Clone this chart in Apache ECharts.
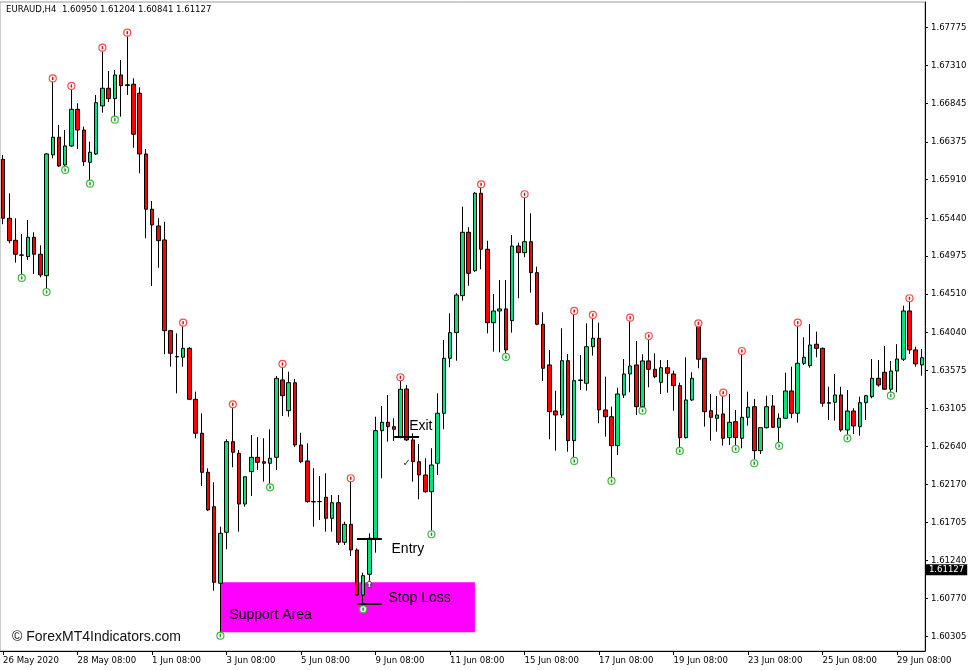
<!DOCTYPE html>
<html><head><meta charset="utf-8">
<script src="https://cdn.jsdelivr.net/npm/echarts@6/dist/echarts.min.js"></script>
<style>html,body{margin:0;padding:0;background:#fff}#c{width:977px;height:670px}</style>
</head><body><div id="c"></div>
<script>
const symbolName = 'EURAUD,H4';
const lastBar = [1.60950, 1.61204, 1.60841, 1.61127];
const watermark = '\u00A9 ForexMT4Indicators.com';
const tickLabels = ['26 May 2020','28 May 08:00','1 Jun 08:00','3 Jun 08:00','5 Jun 08:00','9 Jun 08:00','11 Jun 08:00','15 Jun 08:00','17 Jun 08:00','19 Jun 08:00','23 Jun 08:00','25 Jun 08:00','29 Jun 08:00'];
const barsPerTick = 12;
const priceTicks = [1.60305,1.60770,1.61240,1.61705,1.62170,1.62640,1.63105,1.63575,1.64040,1.64510,1.64975,1.65440,1.65910,1.66375,1.66845,1.67310,1.67775];

const open = [1.66161,1.65437,1.65167,1.64987,1.64966,1.65204,1.64996,1.64733,1.66214,1.66431,
1.66091,1.66324,1.66774,1.66520,1.66124,1.66226,1.66815,1.67032,1.66904,1.67195,
1.67066,1.67081,1.66971,1.66226,1.65548,1.65343,1.65171,1.64058,1.63742,1.63732,
1.63842,1.63217,1.62800,1.62321,1.61899,1.60960,1.61585,1.62697,1.62554,1.61932,
1.62329,1.62505,1.62451,1.62432,1.62505,1.63454,1.63077,1.63420,1.62656,1.62460,
1.61963,1.61961,1.62015,1.61757,1.61948,1.61463,1.61683,1.61368,1.60816,1.61070,
1.61512,1.62832,1.62935,1.62881,1.62751,1.63343,1.62718,1.62451,1.62288,1.62083,
1.62432,1.63045,1.63720,1.64034,1.64488,1.65265,1.64794,1.65744,1.65057,1.64156,
1.64300,1.64325,1.64181,1.65097,1.65015,1.65150,1.64770,1.64137,1.63638,1.63073,
1.63024,1.63690,1.62709,1.63447,1.63413,1.63862,1.63965,1.63086,1.63003,1.62648,
1.63270,1.63527,1.63638,1.63126,1.63687,1.63585,1.63425,1.63604,1.63527,1.63384,
1.62746,1.63208,1.64141,1.63720,1.63077,1.62984,1.63037,1.62746,1.62942,1.62738,
1.62996,1.63126,1.62586,1.62868,1.63135,1.62873,1.62984,1.63319,1.63045,1.63658,
1.63629,1.63892,1.63842,1.63175,1.63180,1.63270,1.62840,1.63073,1.62881,1.63175,
1.63249,1.63474,1.63548,1.63340,1.63564,1.63708,1.64300,1.63822,1.63638];

const high = [1.66214,1.65744,1.65437,1.65245,1.65416,1.65265,1.65106,1.66238,1.67152,1.66582,
1.66520,1.67060,1.66848,1.66561,1.66377,1.66950,1.67530,1.67244,1.67256,1.67379,
1.67714,1.67155,1.67044,1.66287,1.65649,1.65437,1.65395,1.64067,1.64026,1.64156,
1.63858,1.63310,1.63045,1.62370,1.62199,1.61654,1.62726,1.63155,1.62595,1.62267,
1.62779,1.62751,1.62738,1.62849,1.63503,1.63650,1.63555,1.63466,1.62807,1.62677,
1.62370,1.62276,1.62309,1.62043,1.62043,1.61715,1.62248,1.61389,1.61090,1.61573,
1.63003,1.63135,1.63270,1.62984,1.63487,1.63392,1.62800,1.62669,1.62493,1.62616,
1.63290,1.63944,1.64272,1.64517,1.65579,1.65327,1.65760,1.65854,1.65162,1.64509,
1.64680,1.64680,1.65232,1.65138,1.65732,1.65498,1.64843,1.64284,1.63822,1.63322,
1.64088,1.63773,1.64300,1.63760,1.64149,1.64251,1.64156,1.63494,1.63126,1.63359,
1.63711,1.64218,1.63932,1.63769,1.63993,1.63781,1.63699,1.63699,1.63568,1.63420,
1.63732,1.63548,1.64149,1.63723,1.63282,1.63257,1.63298,1.63282,1.63086,1.63809,
1.63310,1.63221,1.62868,1.63261,1.63270,1.63045,1.63543,1.63617,1.64156,1.63977,
1.64141,1.64046,1.63852,1.63371,1.63527,1.63371,1.63331,1.63106,1.63249,1.63270,
1.63711,1.63699,1.63871,1.63687,1.63892,1.64365,1.64456,1.63862,1.63834];

const low = [1.65364,1.65130,1.64893,1.64705,1.64926,1.64754,1.64713,1.64533,1.66173,1.66067,
1.66030,1.66312,1.66287,1.66079,1.65862,1.66214,1.66733,1.66864,1.66647,1.66683,
1.66950,1.66303,1.65989,1.65192,1.64607,1.64831,1.63769,1.63617,1.63290,1.63617,
1.63208,1.62738,1.62153,1.61847,1.60869,1.60317,1.61377,1.62383,1.61593,1.61899,
1.62031,1.62350,1.62206,1.62137,1.62350,1.63012,1.63003,1.62632,1.62432,1.61948,
1.61654,1.61736,1.61593,1.61593,1.61430,1.61430,1.61295,1.60804,1.60641,1.61000,
1.61335,1.62248,1.62697,1.62705,1.62738,1.62705,1.62206,1.61990,1.62071,1.61561,
1.62288,1.62849,1.63609,1.63690,1.64426,1.64610,1.64778,1.64812,1.64026,1.63801,
1.63793,1.63736,1.64034,1.64456,1.64959,1.64524,1.64125,1.63441,1.62726,1.62586,
1.62987,1.62574,1.62460,1.63331,1.63322,1.63752,1.62922,1.62758,1.62215,1.62534,
1.63233,1.63303,1.63024,1.63077,1.63364,1.63474,1.63282,1.63298,1.63077,1.62583,
1.62736,1.63196,1.63597,1.62881,1.62709,1.62819,1.62648,1.62656,1.62607,1.62616,
1.62893,1.62432,1.62546,1.62859,1.62865,1.62644,1.62975,1.62984,1.62930,1.63638,
1.63604,1.63732,1.63126,1.62963,1.62954,1.62819,1.62738,1.62791,1.62770,1.62963,
1.63229,1.63371,1.63331,1.63261,1.63303,1.63687,1.63773,1.63617,1.63506];

const close = [1.65437,1.65162,1.64996,1.64984,1.65204,1.64996,1.64742,1.66226,1.66431,1.66079,
1.66324,1.66774,1.66520,1.66131,1.66247,1.66855,1.67032,1.66904,1.67195,1.67064,
1.67075,1.66468,1.66226,1.65548,1.65355,1.65162,1.64058,1.63781,1.63736,1.63842,
1.63217,1.62800,1.62321,1.61859,1.60972,1.61573,1.62697,1.62567,1.61932,1.62267,
1.62505,1.62444,1.62432,1.62493,1.63474,1.63261,1.63420,1.62656,1.62451,1.61961,
1.61957,1.61963,1.61757,1.61948,1.61463,1.61683,1.61368,1.60816,1.61053,1.61512,
1.62832,1.62935,1.62881,1.62849,1.63340,1.62718,1.62451,1.62288,1.62083,1.62411,
1.63045,1.63720,1.64034,1.64496,1.65265,1.64762,1.65744,1.65057,1.64156,1.64300,
1.64325,1.63822,1.65097,1.65015,1.65150,1.64770,1.64137,1.63597,1.63065,1.63024,
1.63690,1.62709,1.63445,1.63454,1.63862,1.63965,1.63086,1.63003,1.62648,1.63282,
1.63527,1.63625,1.63126,1.63687,1.63585,1.63494,1.63604,1.63536,1.63384,1.62746,
1.63208,1.63474,1.63708,1.63065,1.62996,1.63024,1.62738,1.62935,1.62746,1.62996,
1.63119,1.62586,1.62868,1.63126,1.62873,1.62984,1.63319,1.63045,1.63658,1.63732,
1.63883,1.63842,1.63168,1.63168,1.63270,1.62840,1.63073,1.62889,1.63175,1.63261,
1.63474,1.63392,1.63340,1.63564,1.63711,1.64300,1.63822,1.63650,1.63727];

const swingHighBars = [8,11,16,20,29,37,45,56,64,77,84,92,95,101,104,112,116,119,128,146];
const swingLowBars = [3,7,10,14,18,35,43,58,69,81,92,98,103,109,118,121,125,136,143];

const supportZone = {label:'Support Area', fromBar:35, toBar:76, top:1.60972, bottom:1.60358};
const tradeLevels = [
  {name:'Entry', price:1.61507, fromBar:57, toBar:61},
  {name:'Exit', price:1.62751, fromBar:63, toBar:67},
  {name:'Stop Loss', price:1.60714, fromBar:57, toBar:61}
];
const tradeNotes = [
  {text:'Entry', bar:62, price:1.61380},
  {text:'Exit', bar:65, price:1.62893},
  {text:'Stop Loss', bar:62, price:1.60776}
];
const checkMark = {text:'\u2713', bar:65, price:1.62435};
const buyArrow = {bar:59, price:1.60951};

const categories = open.map((_, i) => String(i));
const noteGap = {'Entry':3, 'Exit':2, 'Stop Loss':0};
const AXF = '"DejaVu Sans Condensed", "Liberation Sans", sans-serif';
const TXF = '"Liberation Sans", Arial, sans-serif';
const showTick = (i) => i % barsPerTick === 0;
const lastIndex = open.length - 1;

const chart = echarts.init(document.getElementById('c'), null, {renderer:'canvas'});
chart.setOption({
  animation: false,
  backgroundColor: '#ffffff',
  title: [
    {text: symbolName + '  ' + lastBar.map(v => v.toFixed(5)).join(' '), left: 6, top: 5, padding: 0,
     textStyle: {fontSize: 9.5, fontWeight: 'normal', color: '#000', fontFamily: AXF}},
    {text: watermark, left: 12, top: 630, padding: 0,
     textStyle: {fontSize: 14, fontWeight: 'normal', color: '#111', fontFamily: TXF}}
  ],
  grid: {left: 0, right: 52, top: 2, bottom: 19, show: true, borderColor: '#9a9a9a', borderWidth: 1, backgroundColor: '#fff'},
  xAxis: {
    type: 'category', data: categories, boundaryGap: true,
    axisLine: {show: true, lineStyle: {color: '#000', width: 1}},
    axisTick: {show: true, interval: (i) => showTick(i), alignWithLabel: true, length: 4, lineStyle: {color: '#000'}},
    axisLabel: {interval: (i) => showTick(i), formatter: (v, i) => showTick(i) ? tickLabels[i / barsPerTick] : '',
      align: 'left', margin: 5, fontSize: 9.5, color: '#000', fontFamily: AXF, hideOverlap: false},
    splitLine: {show: false}
  },
  yAxis: {
    type: 'value', position: 'right', min: 1.60129, max: 1.68090, scale: true,
    axisLine: {show: true, lineStyle: {color: '#000', width: 1}},
    axisTick: {show: true, length: 3, customValues: priceTicks, lineStyle: {color: '#000'}},
    axisLabel: {customValues: priceTicks, formatter: (v) => v.toFixed(5), margin: 6, fontSize: 9.5, color: '#000', fontFamily: AXF},
    splitLine: {show: false}
  },
  series: [
    {
      type: 'candlestick', name: 'EURAUD', z: 2, barWidth: 4, silent: true,
      data: open.map((o, i) => [o, close[i], low[i], high[i]]),
      itemStyle: {color: '#00e676', color0: '#ff0000', borderColor: '#000', borderColor0: '#000', borderWidth: 1},
      markArea: {
        silent: true, z: 1,
        itemStyle: {color: '#ff00ff', opacity: 1},
        label: {show: true, position: 'insideLeft', distance: 9, offset: [0, 8], color: '#000', fontSize: 14, fontFamily: TXF},
        data: [[{name: supportZone.label, coord: [supportZone.fromBar, supportZone.top]}, {coord: [supportZone.toBar, supportZone.bottom]}]]
      }
    },
    {
      type: 'scatter', name: 'lastPrice', z: 8, silent: true, symbolSize: 1, clip: false,
      itemStyle: {color: 'rgba(0,0,0,0)', opacity: 1},
      data: [{name: lastBar[3].toFixed(5), value: [lastIndex, lastBar[3]]}],
      label: {show: true, position: 'right', distance: 3.5, formatter: '{b}', backgroundColor: '#000', color: '#fff',
        padding: [1, 3, 0, 3], fontSize: 9.5, fontFamily: AXF, opacity: 1}
    },
    {
      type: 'scatter', name: 'swingHigh', z: 3, silent: true, symbol: 'circle', symbolSize: 7,
      data: swingHighBars.map(i => [i, high[i]]),
      itemStyle: {color: 'rgba(255,255,255,0.9)', borderColor: '#ff4a4a', borderWidth: 1.2, opacity: 1}
    },
    {
      type: 'scatter', name: 'swingHighDot', z: 4, silent: true, symbol: 'rect', symbolSize: [1.5, 3],
      data: swingHighBars.map(i => [i, high[i]]),
      itemStyle: {color: '#cc1010', opacity: 1}
    },
    {
      type: 'scatter', name: 'swingLow', z: 3, silent: true, symbol: 'circle', symbolSize: 7,
      data: swingLowBars.map(i => [i, low[i]]),
      itemStyle: {color: 'rgba(255,255,255,0.9)', borderColor: '#3cb83c', borderWidth: 1.2, opacity: 1}
    },
    {
      type: 'scatter', name: 'swingLowDot', z: 4, silent: true, symbol: 'rect', symbolSize: [1.5, 3],
      data: swingLowBars.map(i => [i, low[i]]),
      itemStyle: {color: '#2a8a2a', opacity: 1}
    },
    {
      type: 'scatter', name: 'notes', z: 6, silent: true, symbolSize: 1,
      itemStyle: {color: 'rgba(0,0,0,0)', opacity: 1},
      data: tradeNotes.map(n => ({name: n.text, value: [n.bar, n.price], label: {distance: noteGap[n.text]}})),
      label: {show: true, position: 'right', formatter: '{b}', color: '#000', fontSize: 14, fontFamily: TXF, opacity: 1},
      markLine: {
        silent: true, symbol: ['none', 'none'], animation: false,
        lineStyle: {color: '#000', width: 2, type: 'solid', opacity: 1},
        label: {show: false},
        data: tradeLevels.map(t => [{coord: [t.fromBar, t.price]}, {coord: [t.toBar, t.price]}])
      }
    },
    {
      type: 'scatter', name: 'check', z: 6, silent: true, symbolSize: 1,
      itemStyle: {color: 'rgba(0,0,0,0)', opacity: 1},
      data: [{name: checkMark.text, value: [checkMark.bar, checkMark.price]}],
      label: {show: true, position: 'inside', formatter: '{b}', color: '#333', fontSize: 10, fontFamily: '"DejaVu Sans", sans-serif', opacity: 1}
    },
    {
      type: 'scatter', name: 'buyArrow', z: 6, silent: true,
      symbol: 'path://M5,0 L10,5 L7,5 L7,10 L3,10 L3,5 L0,5 Z', symbolSize: [6, 7],
      data: [[buyArrow.bar, buyArrow.price]],
      itemStyle: {color: '#ffffff', borderColor: '#555', borderWidth: 1, opacity: 1}
    }
  ]
});
</script></body></html>
